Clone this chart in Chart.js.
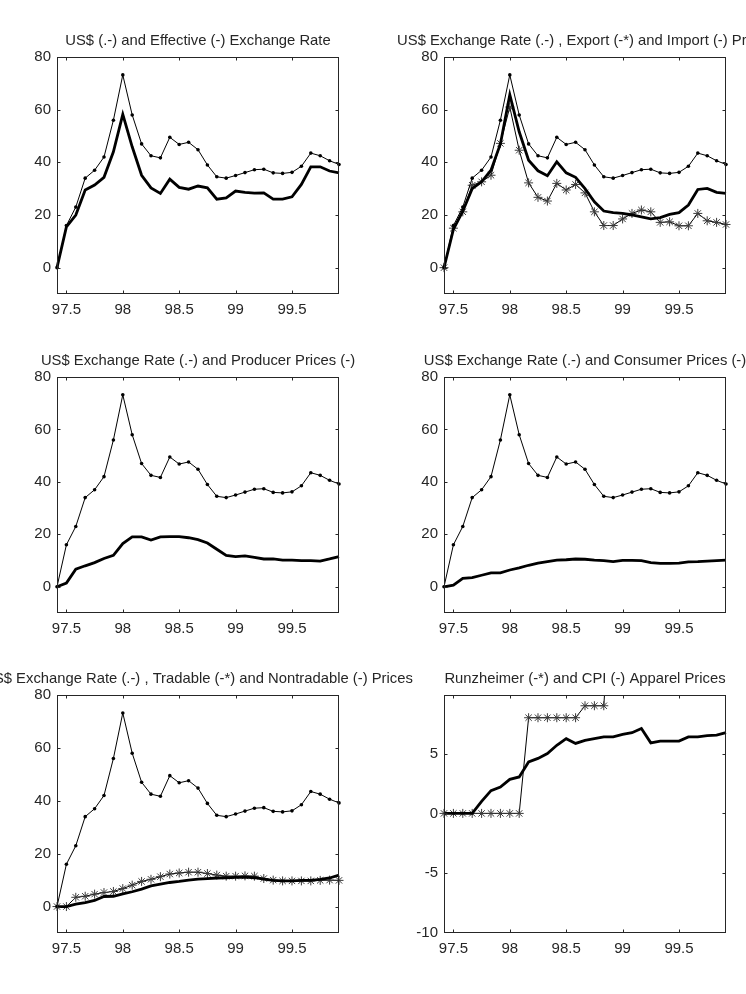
<!DOCTYPE html>
<html>
<head>
<meta charset="utf-8">
<script src="https://cdn.jsdelivr.net/npm/chart.js@4.4.0/dist/chart.umd.min.js"></script>
<style>
  html, body { margin: 0; padding: 0; background: #fff; }
  #page { position: relative; width: 746px; height: 994px; overflow: hidden; }
  #page canvas { position: absolute; left: 0; top: 0; }
</style>
</head>
<body>
<div id="page">
  <canvas id="effChart" width="746" height="994"></canvas>
  <canvas id="tradeChart" width="746" height="994"></canvas>
  <canvas id="ppiChart" width="746" height="994"></canvas>
  <canvas id="cpiChart" width="746" height="994"></canvas>
  <canvas id="tntChart" width="746" height="994"></canvas>
  <canvas id="apparelChart" width="746" height="994"></canvas>
</div>
<script>
// monthly observations, 97.4167 (Jun 97) .. 99.9167 (Dec 99)
const dates = [97.4167, 97.5, 97.5833, 97.6667, 97.75, 97.8333, 97.9167, 98, 98.0833, 98.1667,
  98.25, 98.3333, 98.4167, 98.5, 98.5833, 98.6667, 98.75, 98.8333, 98.9167, 99,
  99.0833, 99.1667, 99.25, 99.3333, 99.4167, 99.5, 99.5833, 99.6667, 99.75, 99.8333, 99.9167];

const xTicks = [97.5, 98, 98.5, 99, 99.5];
const yTicksMain = [0, 20, 40, 60, 80];
const yTicksApparel = [-10, -5, 0, 5];

const usDollar = [0, 16, 23, 34, 37, 42, 56, 73.2, 58, 47, 42.5, 41.7, 49.5, 46.8, 47.6, 44.8,
  39, 34.5, 34, 35, 36.1, 37.2, 37.4, 36, 35.8, 36.2, 38.5, 43.5, 42.5, 40.6, 39.2];
const effective = [0, 15.5, 20, 29.5, 31.4, 34.3, 44, 58.2, 45.9, 35.1, 30.3, 28.2, 33.6, 30.5, 29.8, 31,
  30.3, 26, 26.5, 29.1, 28.6, 28.3, 28.4, 26, 26, 26.9, 31.6, 38.3, 38.3, 36.7, 36];
const exportPrices = [0, 15, 21.2, 31.3, 32.6, 35.1, 47.2, 61, 44.6, 32.2, 26.7, 25.3, 32, 29.5, 31.6, 28.4,
  21.2, 16, 16, 18.5, 20.6, 21.9, 21.2, 17.2, 17.4, 15.9, 15.9, 20.6, 17.8, 17.2, 16.4];
const importPrices = [0, 14.5, 21.5, 30, 32.6, 37, 47, 65.7, 51.6, 40.8, 36.8, 34.9, 40.2, 36, 34.3, 30,
  25, 21.5, 20.9, 20.6, 20, 19.3, 18.5, 19, 20.2, 20.9, 23.8, 29.7, 30.1, 28.6, 28.2];
const producerPrices = [0, 1.4, 6.7, 8, 9.2, 10.8, 12, 16.5, 19, 19, 17.8, 19, 19.1, 19.1, 18.7, 18,
  16.7, 14.3, 12, 11.5, 11.8, 11.2, 10.6, 10.6, 10.2, 10.2, 10, 10, 9.8, 10.6, 11.5];
const consumerPrices = [0, 0.6, 3.2, 3.5, 4.4, 5.3, 5.3, 6.4, 7.2, 8.2, 9, 9.6, 10.2, 10.3, 10.6, 10.5,
  10.2, 10, 9.6, 10.1, 10.1, 10, 9.2, 8.9, 8.9, 9, 9.5, 9.6, 9.8, 10, 10.2];
const tradable = [0, 0, 3.5, 3.9, 4.7, 5.3, 5.7, 6.8, 8.1, 9.5, 10.3, 11.3, 12.3, 12.7, 13, 13,
  12.5, 11.9, 11.5, 11.5, 11.6, 11.5, 10.6, 10, 9.7, 9.7, 9.7, 9.7, 9.9, 10, 9.9];
const nontradable = [0, 0, 0.9, 1.5, 2.3, 3.8, 3.9, 4.8, 5.6, 6.6, 7.8, 8.5, 9.1, 9.5, 10, 10.4,
  10.6, 10.8, 10.9, 11, 11.1, 10.9, 10.4, 9.9, 9.7, 9.7, 9.9, 9.9, 10.3, 10.8, 11.9];
const runzheimer = [0, 0, 0, 0, 0, 0, 0, 0, 0, 8, 8, 8, 8, 8, 8, 9,
  9, 9, 21, 21, 21, 21, 21, 22, 22, 22, 22, 22, 22, 22, 22];
const cpiApparel = [0, 0, 0, 0, 1, 1.9, 2.2, 2.85, 3.05, 4.3, 4.6, 5, 5.7, 6.25, 5.85, 6.1,
  6.25, 6.4, 6.4, 6.6, 6.75, 7.1, 5.9, 6.05, 6.05, 6.05, 6.4, 6.4, 6.5, 6.55, 6.75];

const INK = '#262626';
const PAGE_W = 746, PAGE_H = 994;
const Y_AXIS_W = 45, X_AXIS_H = 30;

Chart.defaults.font.family = '"Liberation Sans", Arial, sans-serif';
Chart.defaults.font.size = 15;
Chart.defaults.color = INK;

// MATLAB-like box with inward ticks on all sides, plus the panel title
const framePlugin = {
  id: 'frame',
  afterDraw(chart, args, opts) {
    const { ctx, chartArea: a, scales } = chart;
    const l = Math.round(a.left) + 0.5, r = Math.round(a.right) - 0.5;
    const t = Math.round(a.top) + 0.5, b = Math.round(a.bottom) - 0.5;
    ctx.save();
    ctx.strokeStyle = INK;
    ctx.lineWidth = 1;
    ctx.strokeRect(l, t, r - l, b - t);
    ctx.beginPath();
    scales.x.ticks.forEach(tk => {
      const px = Math.round(scales.x.getPixelForValue(tk.value)) + 0.5;
      ctx.moveTo(px, b); ctx.lineTo(px, b - 3);
      ctx.moveTo(px, t); ctx.lineTo(px, t + 3);
    });
    scales.y.ticks.forEach(tk => {
      const py = Math.round(scales.y.getPixelForValue(tk.value)) + 0.5;
      if (py <= t + 1 || py >= b - 1) return;
      ctx.moveTo(l, py); ctx.lineTo(l + 3, py);
      ctx.moveTo(r, py); ctx.lineTo(r - 3, py);
    });
    ctx.stroke();
    ctx.fillStyle = INK;
    ctx.font = '14.8px "Liberation Sans", Arial, sans-serif';
    ctx.textAlign = 'center';
    ctx.textBaseline = 'middle';
    ctx.fillText(opts.text, (a.left + a.right) / 2, a.top - 16.5);
    ctx.restore();
  }
};

function xy(values) {
  return values.map((v, i) => ({ x: dates[i], y: v }));
}
function dotLine(values) {
  return { data: xy(values), borderColor: '#000', borderWidth: 1, pointRadius: 1.8,
    pointBackgroundColor: '#000', pointBorderWidth: 0 };
}
function thickLine(values) {
  return { data: xy(values), borderColor: '#000', borderWidth: 2.8, pointRadius: 0 };
}
function starLine(values) {
  return { data: xy(values), borderColor: '#000', borderWidth: 1, pointStyle: 'star',
    pointRadius: 4.5, pointBorderColor: '#3a3a3a', pointBorderWidth: 1 };
}

function makePanel(id, title, box, yMin, yMax, yTicks, datasets, clip) {
  datasets.forEach(d => { d.clip = clip; });
  new Chart(document.getElementById(id), {
    type: 'line',
    data: { datasets },
    options: {
      responsive: false,
      animation: false,
      devicePixelRatio: 1,
      events: [],
      layout: {
        padding: {
          left: box.left - Y_AXIS_W,
          right: PAGE_W - box.right,
          top: box.top,
          bottom: PAGE_H - box.bottom - X_AXIS_H
        }
      },
      plugins: { legend: { display: false }, tooltip: { enabled: false }, frame: { text: title } },
      scales: {
        x: {
          type: 'linear',
          min: dates[0],
          max: dates[dates.length - 1],
          grid: { display: false, drawTicks: false },
          border: { display: false },
          afterBuildTicks: s => { s.ticks = xTicks.map(v => ({ value: v })); },
          afterFit: s => { s.height = X_AXIS_H; },
          ticks: { padding: 7, maxRotation: 0, autoSkip: false, callback: v => String(v) }
        },
        y: {
          min: yMin,
          max: yMax,
          grid: { display: false, drawTicks: false },
          border: { display: false },
          afterBuildTicks: s => { s.ticks = yTicks.map(v => ({ value: v })); },
          afterFit: s => { s.width = Y_AXIS_W; },
          ticks: { padding: 6, autoSkip: false, callback: v => String(v) }
        }
      }
    },
    plugins: [framePlugin]
  });
}

const leftCol = { left: 57, right: 339 };
const rightCol = { left: 444, right: 726 };
const row1 = { top: 57, bottom: 294 };
const row2 = { top: 377, bottom: 613 };
const row3 = { top: 695, bottom: 933 };

makePanel('effChart', 'US$ (.-) and Effective (-) Exchange Rate',
  Object.assign({}, leftCol, row1), -10, 80, yTicksMain,
  [dotLine(usDollar), thickLine(effective)], false);

makePanel('tradeChart', 'US$ Exchange Rate (.-) , Export (-*) and Import (-) Prices',
  Object.assign({}, rightCol, row1), -10, 80, yTicksMain,
  [dotLine(usDollar), thickLine(importPrices), starLine(exportPrices)], false);

makePanel('ppiChart', 'US$ Exchange Rate (.-) and Producer Prices (-)',
  Object.assign({}, leftCol, row2), -10, 80, yTicksMain,
  [dotLine(usDollar), thickLine(producerPrices)], false);

makePanel('cpiChart', 'US$ Exchange Rate (.-) and Consumer Prices (-)',
  Object.assign({}, rightCol, row2), -10, 80, yTicksMain,
  [dotLine(usDollar), thickLine(consumerPrices)], false);

makePanel('tntChart', 'US$ Exchange Rate (.-) , Tradable (-*) and Nontradable (-) Prices',
  Object.assign({}, leftCol, row3), -10, 80, yTicksMain,
  [dotLine(usDollar), thickLine(nontradable), starLine(tradable)], false);

makePanel('apparelChart', 'Runzheimer (-*) and CPI (-) Apparel Prices',
  Object.assign({}, rightCol, row3), -10, 9.9, yTicksApparel,
  [thickLine(cpiApparel), starLine(runzheimer)], { left: 6, right: 6, top: 0, bottom: 6 });
</script>
</body>
</html>
